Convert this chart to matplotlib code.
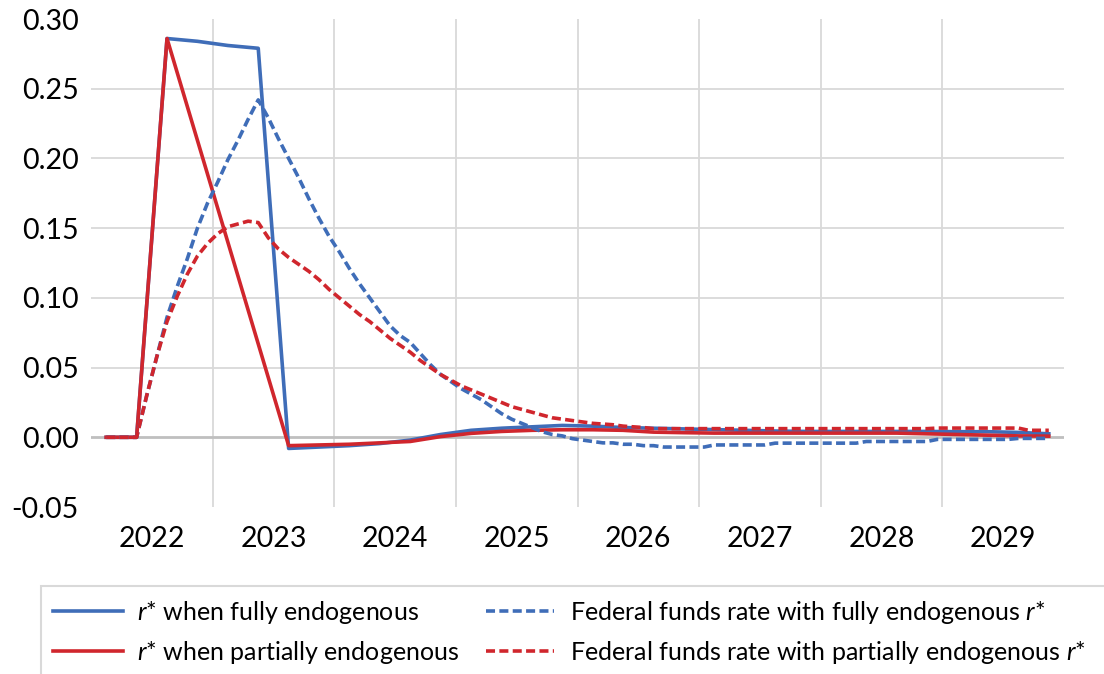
import numpy as np
import matplotlib
matplotlib.use("Agg")
import matplotlib.pyplot as plt
from matplotlib.patches import Rectangle

plt.rcParams['font.family'] = ['Lato', 'DejaVu Sans']
plt.rcParams['mathtext.fontset'] = 'custom'
plt.rcParams['mathtext.it'] = 'Lato:italic'
plt.rcParams['mathtext.rm'] = 'Lato'

# years shown on the axis, data are monthly slots (Jan 2022 .. Dec 2029)
years = ["2022", "2023", "2024", "2025", "2026", "2027", "2028", "2029"]

# r* is quarterly (middle month of each quarter)
quarter_month = list(range(1, 95, 3))
r_full = [0.000, 0.000, 0.286, 0.284, 0.281, 0.279, -0.008, -0.007, -0.006, -0.0045,
          -0.002, 0.002, 0.005, 0.0065, 0.0075, 0.0085, 0.008, 0.007, 0.0065, 0.006,
          0.0055, 0.005, 0.0045, 0.0042, 0.0042, 0.0042, 0.0042, 0.0042, 0.004, 0.004,
          0.0035, 0.0025]
r_partial = [0.000, 0.000, 0.286, 0.213, 0.140, 0.067, -0.006, -0.0055, -0.005, -0.004,
             -0.003, 0.0005, 0.0028, 0.0042, 0.005, 0.0054, 0.0054, 0.005, 0.0037, 0.0033,
             0.003, 0.003, 0.003, 0.003, 0.003, 0.003, 0.003, 0.0025, 0.002, 0.0015,
             0.001, 0.0008]

# federal funds rate, monthly
month = list(range(1, 95))
ffr_full = [0.000, 0.000, 0.000, 0.000, 0.030, 0.058, 0.086, 0.108, 0.128, 0.150,
            0.168, 0.183, 0.199, 0.213, 0.228, 0.242, 0.229, 0.214, 0.200, 0.186,
            0.171, 0.157, 0.144, 0.133, 0.121, 0.110, 0.100, 0.090, 0.080, 0.073,
            0.068, 0.060, 0.052, 0.045, 0.040, 0.035, 0.031, 0.027, 0.022, 0.017,
            0.013, 0.010, 0.007, 0.004, 0.002, 0.001, -0.001, -0.002, -0.003, -0.004,
            -0.004, -0.005, -0.005, -0.006, -0.006, -0.007, -0.007, -0.007, -0.007, -0.007,
            -0.0055, -0.0055, -0.0055, -0.0055, -0.0055, -0.0055, -0.0042, -0.0042, -0.0042, -0.0042,
            -0.0042, -0.0042, -0.0042, -0.0042, -0.0042, -0.003, -0.003, -0.003, -0.003, -0.003,
            -0.003, -0.003, -0.0015, -0.0015, -0.0015, -0.0015, -0.0015, -0.0015, -0.0015, -0.0015,
            -0.0008, -0.0008, -0.0008, -0.0008]
ffr_partial = [0.000, 0.000, 0.000, 0.000, 0.030, 0.058, 0.083, 0.101, 0.117, 0.130,
               0.139, 0.146, 0.151, 0.153, 0.155, 0.154, 0.143, 0.135, 0.129, 0.124,
               0.119, 0.113, 0.106, 0.100, 0.094, 0.088, 0.083, 0.077, 0.071, 0.066,
               0.061, 0.055, 0.050, 0.045, 0.041, 0.037, 0.034, 0.031, 0.028, 0.025,
               0.022, 0.020, 0.018, 0.016, 0.014, 0.013, 0.012, 0.011, 0.010, 0.0095,
               0.009, 0.008, 0.0075, 0.007, 0.0062, 0.0062, 0.0062, 0.0062, 0.0062, 0.0062,
               0.0062, 0.0062, 0.0062, 0.0062, 0.0062, 0.0062, 0.0062, 0.0062, 0.0062, 0.0062,
               0.0062, 0.0062, 0.0062, 0.0062, 0.0062, 0.0062, 0.0062, 0.0062, 0.0062, 0.0062,
               0.0062, 0.0062, 0.0066, 0.0066, 0.0066, 0.0066, 0.0066, 0.0066, 0.0066, 0.0066,
               0.0066, 0.005, 0.005, 0.005]

blue = "#3F6DB8"
red = "#D0262D"

fig = plt.figure(figsize=(11.04, 6.74), dpi=100)
ax = fig.add_axes([91 / 1104, 1 - 507 / 674, 973 / 1104, 488 / 674])

xq = np.array(quarter_month) + 0.5
xm = np.array(month) + 0.5
lw = 2.6
dash = (0, (2.5, 1.2))
l1, = ax.plot(xq, r_full, color=blue, lw=lw, label=r"$r$* when fully endogenous", zorder=3)
l2, = ax.plot(xq, r_partial, color=red, lw=lw, label=r"$r$* when partially endogenous", zorder=3)
l3, = ax.plot(xm, ffr_full, color=blue, lw=lw, ls=dash,
              label=r"Federal funds rate with fully endogenous $r$*", zorder=3)
l4, = ax.plot(xm, ffr_partial, color=red, lw=lw, ls=dash,
              label=r"Federal funds rate with partially endogenous $r$*", zorder=3)

ax.set_xlim(0, 96)
ax.set_ylim(-0.05, 0.30)
ax.set_yticks(np.arange(-0.05, 0.301, 0.05))
ax.set_yticklabels(["%.2f" % v for v in np.arange(-0.05, 0.301, 0.05)])
ax.set_xticks([12 * i + 6 for i in range(len(years))])
ax.set_xticklabels(years)
ax.tick_params(length=0, labelsize=20.5)
ax.tick_params(axis="y", pad=9)
ax.tick_params(axis="x", pad=14)

for v in [0.05, 0.10, 0.15, 0.20, 0.25]:
    ax.axhline(v, color="#d9d9d9", lw=1.3, zorder=1)
for i in range(1, len(years)):
    ax.axvline(12 * i, color="#d9d9d9", lw=1.3, zorder=1)
ax.axhline(0, color="#bfbfbf", lw=2, zorder=2)
for s in ax.spines.values():
    s.set_visible(False)

# legend frame (runs off the bottom and right of the picture)
fig.patches.append(Rectangle((40.5 / 1104, -0.05), 1.1, 1 - 586 / 674 + 0.05,
                             transform=fig.transFigure, fill=False,
                             edgecolor="#d9d9d9", lw=1.5))

fs = 18
fpx = fs * 100 / 72
leg1 = fig.legend([l1, l2], [l1.get_label(), l2.get_label()], loc="upper left",
                  bbox_to_anchor=(52.7 / 1104, 1 - 599 / 674), frameon=False,
                  fontsize=fs, handlelength=70 / fpx, handletextpad=14 / fpx,
                  borderpad=0, borderaxespad=0, labelspacing=0.5)
leg2 = fig.legend([l3, l4], [l3.get_label(), l4.get_label()], loc="upper left",
                  bbox_to_anchor=(486 / 1104, 1 - 599 / 674), frameon=False,
                  fontsize=fs, handlelength=68 / fpx, handletextpad=16 / fpx,
                  borderpad=0, borderaxespad=0, labelspacing=0.5)

fig.savefig("out.png", dpi=100)
